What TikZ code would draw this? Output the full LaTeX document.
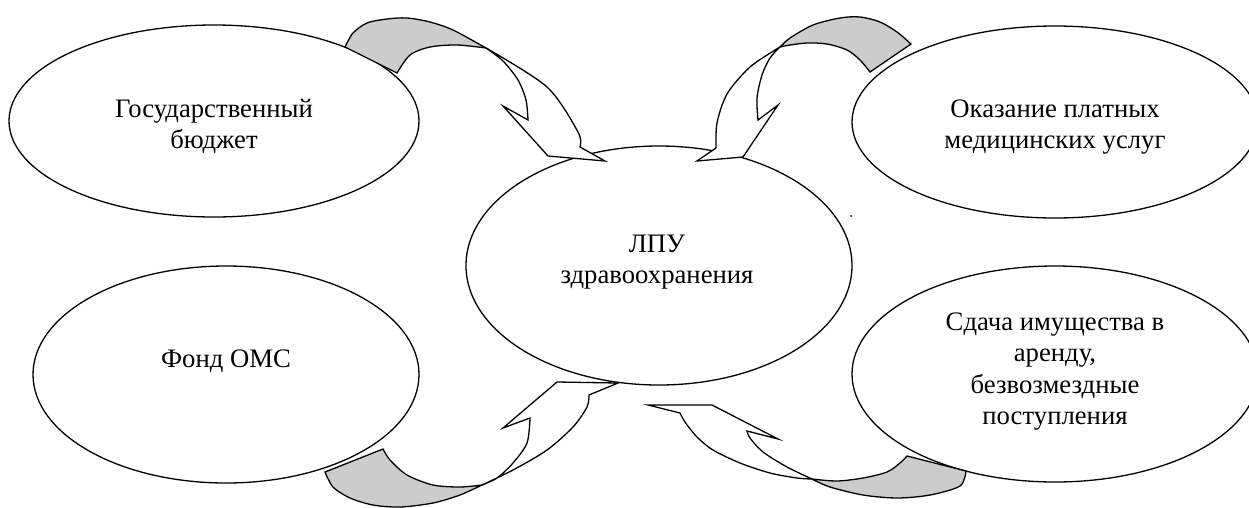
\documentclass[tikz,border=0pt]{standalone}
\usepackage{fontspec}
\setmainfont{Liberation Serif}
\usetikzlibrary{shapes.geometric}
\definecolor{bandgrey}{RGB}{204,204,204}
\setlength{\tabcolsep}{0pt}
\begin{document}
\begin{tikzpicture}[x=1pt,y=-1pt,
  ell/.style={draw, ellipse, line width=1.3pt, fill=white, inner sep=0pt, outer sep=0pt},
  txt/.style={anchor=base, inner sep=0pt, font=\fontsize{26.7}{31.5}\selectfont},
  band/.style={fill=bandgrey, draw, line width=1.3pt, line join=miter},
  front/.style={fill=white, draw, line width=1.3pt, line join=miter}]
\path[use as bounding box, fill=white] (0,0) rectangle (1249,507);

% ellipses
\node[ell, minimum width=410, minimum height=192] (gb) at (214,121) {};
\node[ell, minimum width=386, minimum height=217] (oms) at (226,374.5) {};
\node[ell, minimum width=386, minimum height=239] (lpu) at (659,265.5) {};
\node[ell, minimum width=406, minimum height=192] (okaz) at (1055,122) {};
\node[ell, minimum width=406, minimum height=216] (sdacha) at (1055,374) {};

% texts
\node[txt] (tgb) at (214,117) {\begin{tabular}[t]{c}Государственный\\бюджет\end{tabular}};
\node[txt] (toms) at (226,367) {Фонд ОМС};
\node[txt] (tlpu) at (657,252) {\begin{tabular}[t]{c}ЛПУ\\здравоохранения\end{tabular}};
\node[txt] (tokaz) at (1055,117) {\begin{tabular}[t]{c}Оказание платных\\медицинских услуг\end{tabular}};
\node[txt] (tsdacha) at (1055,330) {\begin{tabular}[t]{c}Сдача имущества в\\аренду,\\безвозмездные\\поступления\end{tabular}};
\node[circle, fill, inner sep=0pt, minimum size=2pt] (dot) at (851,216) {};

% arrow 1: top left
\path[band] plot[smooth] coordinates {(345,47) (353,33) (367,23) (387,19) (407,18) (430,22) (453,30) (486,48)}
  -- plot[smooth] coordinates {(486,48) (457,45) (430,47) (410,55) (397,73)} -- cycle;
\path[front] plot[smooth] coordinates {(486,48) (547,87) (578,132) (580,147)}
  -- (605,161) -- (548,156) -- (503,106) -- (528,120)
  -- plot[smooth] coordinates {(528,120) (526,100) (518,80) (503,61) (486,48)} -- cycle;

% arrow 2: top right
\path[band] plot[smooth] coordinates {(780,47) (790,38) (813,25) (840,18) (860,17) (880,22) (897,32) (911,44)}
  -- (870,72)
  -- plot[smooth] coordinates {(870,72) (860,60) (847,50) (827,44) (807,43) (790,45) (780,47)} -- cycle;
\path[front] plot[smooth] coordinates {(780,47) (750,67) (727,94) (717,123) (716,148)}
  -- (697,161) -- (743,157) -- (778,105) -- (758,120)
  -- plot[smooth] coordinates {(758,120) (757,98) (762,75) (770,58) (780,47)} -- cycle;

% arrow 3: bottom left
\path[band] plot[smooth] coordinates {(325,472) (333,487) (350,498) (373,505) (400,507) (433,503) (460,495) (482,485)}
  -- plot[smooth] coordinates {(482,485) (460,487) (433,485) (407,475) (390,460) (383,449)} -- cycle;
\path[front] plot[smooth] coordinates {(482,485) (513,470) (547,450) (573,427) (587,407) (589,395)}
  -- (618,383) -- (557,382) -- (503,428) -- (530,418)
  -- plot[smooth] coordinates {(530,418) (527,443) (513,463) (497,478) (482,485)} -- cycle;

% arrow 4: bottom right
\path[band] plot[smooth] coordinates {(812,479) (837,481) (863,478) (887,472) (900,463) (907,456)}
  -- (966,471)
  -- plot[smooth] coordinates {(966,471) (960,486) (930,495) (897,498) (863,495) (830,487) (812,479)} -- cycle;
\path[front] (680,413) -- (648,405) -- (712,405) -- (778,439) -- (747,431)
  -- plot[smooth] coordinates {(747,431) (750,438) (763,452) (787,467) (812,479)}
  -- plot[smooth] coordinates {(812,479) (797,478) (770,473) (740,463) (713,450) (697,437) (685,422) (680,413)} -- cycle;
\end{tikzpicture}
\end{document}
